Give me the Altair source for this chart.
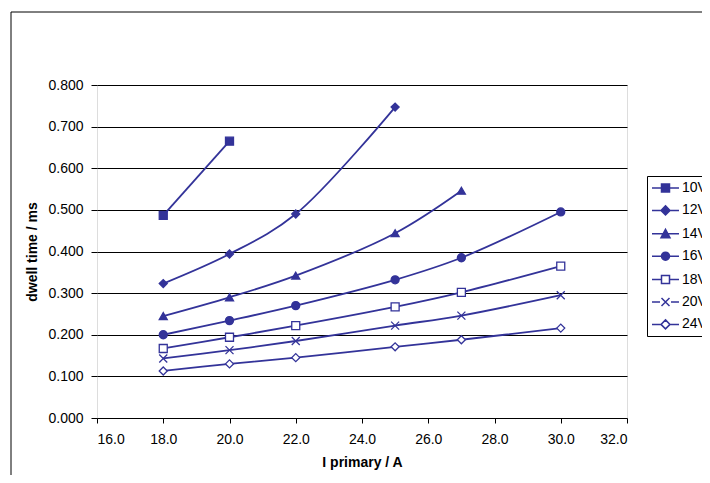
import altair as alt
import pandas as pd

FONT = "Liberation Sans"
NAVY = "#333399"

series = ["10V", "12V", "14V", "16V", "18V", "20V", "24V"]
i_primary = {
    "10V": [18, 20],
    "12V": [18, 20, 22, 25],
    "14V": [18, 20, 22, 25, 27],
    "16V": [18, 20, 22, 25, 27, 30],
    "18V": [18, 20, 22, 25, 27, 30],
    "20V": [18, 20, 22, 25, 27, 30],
    "24V": [18, 20, 22, 25, 27, 30],
}
dwell = {
    "10V": [0.487, 0.665],
    "12V": [0.323, 0.394, 0.490, 0.747],
    "14V": [0.245, 0.290, 0.342, 0.444, 0.546],
    "16V": [0.200, 0.234, 0.270, 0.332, 0.385, 0.495],
    "18V": [0.167, 0.194, 0.222, 0.267, 0.302, 0.365],
    "20V": [0.143, 0.163, 0.185, 0.222, 0.246, 0.295],
    "24V": [0.113, 0.130, 0.145, 0.171, 0.188, 0.216],
}
x_ticks = [16, 18, 20, 22, 24, 26, 28, 30, 32]
y_ticks = [0.0, 0.1, 0.2, 0.3, 0.4, 0.5, 0.6, 0.7, 0.8]

rows = []
for s in series:
    for xi, yi in zip(i_primary[s], dwell[s]):
        rows.append({"series": s, "i": xi, "t": yi})
df = pd.DataFrame(rows)

X_PATH = "M-1,-1L1,1M-1,1L1,-1"
plot_shapes = ["square", "diamond", "triangle-up", "circle", "square", X_PATH, "diamond"]
fills = [NAVY, NAVY, NAVY, NAVY, "white", "transparent", "white"]

# legend symbols (line with a marker), drawn in a 14px symbol slot: 1 unit = 7px
K = 7.0
L0, L1, C, H = -7.0, 20.0, 6.5, 4.0  # line start/end, marker centre, marker half size (px)


def u(v):
    return f"{v / K:.3f}"


def seg(a, b):
    return f"M{u(a)},0H{u(b)}"


sq = f"M{u(C - H)},{u(-H)}H{u(C + H)}V{u(H)}H{u(C - H)}Z"
dm = f"M{u(C)},{u(-H - 0.5)}L{u(C + H + 0.5)},0L{u(C)},{u(H + 0.5)}L{u(C - H - 0.5)},0Z"
tr = f"M{u(C)},{u(-H - 0.5)}L{u(C + H + 0.5)},{u(H)}H{u(C - H - 0.5)}Z"
ci = (f"M{u(C + H)},0A{u(H)},{u(H)},0,1,1,{u(C - H)},0"
      f"A{u(H)},{u(H)},0,1,1,{u(C + H)},0Z")
xx = (f"M{u(C - H)},{u(-H)}L{u(C + H)},{u(H)}M{u(C - H)},{u(H)}L{u(C + H)},{u(-H)}")

legend_shapes = [
    seg(L0, L1) + sq,
    seg(L0, L1) + dm,
    seg(L0, L1) + tr,
    seg(L0, L1) + ci,
    seg(L0, C - H) + seg(C + H, L1) + sq,
    seg(L0, C - H - 1.5) + seg(C + H + 1.5, L1) + xx,
    seg(L0, C - H - 0.5) + seg(C + H + 0.5, L1) + dm,
]

x_enc = alt.X(
    "i:Q",
    scale=alt.Scale(domain=[16, 32], nice=False, zero=False),
    axis=alt.Axis(
        values=x_ticks, format=".1f", title="I primary / A", grid=False,
        domain=False, tickSize=5, tickColor="black", labelPadding=9,
        titlePadding=9, labelFontSize=14, titleFontSize=14,
        titleFontWeight="bold",
    ),
)
y_enc = alt.Y(
    "t:Q",
    scale=alt.Scale(domain=[0, 0.8], nice=False),
    axis=alt.Axis(
        values=y_ticks, format=".3f", title="dwell time / ms", grid=True,
        gridColor="black", gridWidth=1, gridOpacity=1, domain=False,
        tickSize=6, tickColor="black", labelPadding=8, titlePadding=8,
        labelFontSize=14, titleFontSize=14, titleFontWeight="bold",
    ),
)

base = alt.Chart(df)

frame = alt.Chart(pd.DataFrame({"a": [0]})).mark_rect(
    fill="transparent", stroke="black", strokeWidth=1
).encode(
    x=alt.value(-86), x2=alt.value(900), y=alt.value(-73), y2=alt.value(700)
)

lines = base.mark_line(
    color=NAVY, strokeWidth=1.8, interpolate="catmull-rom"
).encode(x=x_enc, y=y_enc, detail="series:N")

points = base.mark_point(
    stroke=NAVY, strokeWidth=1.3, size=64, opacity=1
).encode(
    x=x_enc,
    y=y_enc,
    shape=alt.Shape("series:N", scale=alt.Scale(domain=series, range=plot_shapes), legend=None),
    fill=alt.Fill("series:N", scale=alt.Scale(domain=series, range=fills), legend=None),
)

leg = alt.Legend(
    orient="none", legendX=550, legendY=91, title=None, padding=4,
    strokeColor="black", fillColor="white", symbolSize=196,
    symbolStrokeWidth=1.5, symbolOpacity=1,
    labelFontSize=14, labelFont=FONT, labelColor="black", labelOffset=15,
    rowPadding=7.4, cornerRadius=0,
)

legend_layer = base.transform_filter("false").mark_point(
    strokeWidth=1.5, opacity=1
).encode(
    shape=alt.Shape("series:N", scale=alt.Scale(domain=series, range=legend_shapes), legend=leg),
    fill=alt.Fill("series:N", scale=alt.Scale(domain=series, range=fills), legend=leg),
    stroke=alt.Stroke("series:N", scale=alt.Scale(domain=series, range=[NAVY] * len(series)), legend=leg),
)

chart = alt.layer(frame, lines, points, legend_layer).resolve_scale(
    shape="independent", fill="independent", stroke="independent"
).properties(
    width=530,
    height=333,
    padding={"left": 89, "top": 77, "right": 75, "bottom": 57},
    autosize=alt.AutoSizeParams(type="none"),
    title=alt.TitleParams(
        "dwell time = f (Ubatt)", fontSize=18, fontWeight="bold", font=FONT,
        offset=39, dx=4, anchor="middle", color="black",
    ),
).configure_view(
    stroke="black", strokeWidth=2
).configure_axis(
    labelFont=FONT, titleFont=FONT, labelColor="black", titleColor="black"
).configure(background="white")

chart.save("out.html", embed_options={"renderer": "svg", "actions": False})
